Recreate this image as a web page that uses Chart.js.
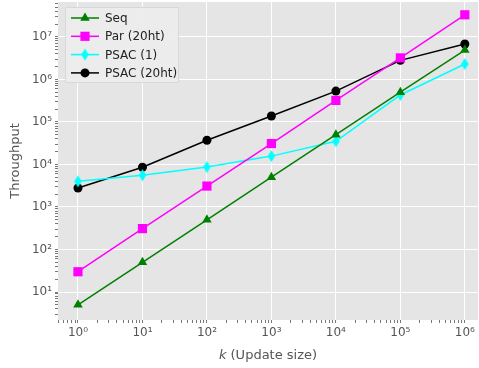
<!DOCTYPE html>
<html>
<head>
<meta charset="utf-8">
<script src="https://cdn.jsdelivr.net/npm/chart.js@4"></script>
<style>
  body { margin: 0; background: #fff; }
  #wrap { width: 479px; height: 368px; }
</style>
</head>
<body>
<div id="wrap"><canvas id="chartTput"></canvas></div>
<script>
// ===== DATA =====
const kValues = [1, 10, 100, 1000, 10000, 100000, 1000000];
const seq = [5, 50, 500, 5000, 50000, 500000, 4900000];
const par20 = [30, 310, 3100, 31000, 320000, 3200000, 33000000];
const psac1 = [4000, 5600, 8700, 15700, 35000, 430000, 2300000];
const psac20 = [2800, 8600, 37000, 138000, 530000, 2800000, 6800000];
const seriesNames = ["Seq", "Par (20ht)", "PSAC (1)", "PSAC (20ht)"];

const FONT = "'DejaVu Sans', sans-serif";
const SUP = { "0": "\u2070", "1": "\u00b9", "2": "\u00b2", "3": "\u00b3", "4": "\u2074",
  "5": "\u2075", "6": "\u2076", "7": "\u2077", "8": "\u2078", "9": "\u2079", "-": "\u207b" };

function powLabel(v) {
  const e = Math.round(Math.log10(v));
  if (Math.abs(Math.log10(v) - e) > 1e-9) return "";
  return "10" + String(e).split("").map(c => SUP[c]).join("");
}

function logTicks(scale) {
  const out = [];
  const lo = Math.floor(Math.log10(scale.min));
  const hi = Math.ceil(Math.log10(scale.max));
  for (let e = lo; e <= hi; e++) {
    for (let m = 1; m <= 9; m++) {
      const v = m * Math.pow(10, e);
      if (v >= scale.min * 0.9999 && v <= scale.max * 1.0001) out.push({ value: v, major: m === 1 });
    }
  }
  scale.ticks = out;
}

// thin diamond marker
function thinDiamond(color) {
  const c = document.createElement("canvas");
  c.width = 9; c.height = 13;
  const g = c.getContext("2d");
  g.fillStyle = color;
  g.beginPath();
  g.moveTo(4.5, 0.5); g.lineTo(8.3, 6.5); g.lineTo(4.5, 12.5); g.lineTo(0.7, 6.5);
  g.closePath(); g.fill();
  return c;
}

const styles = [
  { color: "#008000", pointStyle: "triangle", radius: 5.5 },
  { color: "#ff00ff", pointStyle: "rect", radius: 6.5 },
  { color: "#00ffff", pointStyle: thinDiamond("#00ffff"), radius: 5 },
  { color: "#000000", pointStyle: "circle", radius: 4.5 }
];
const values = [seq, par20, psac1, psac20];

const datasets = values.map((vals, i) => ({
  label: seriesNames[i],
  data: kValues.map((k, j) => ({ x: k, y: vals[j] })),
  borderColor: styles[i].color,
  backgroundColor: styles[i].color,
  borderWidth: 1.5,
  pointStyle: styles[i].pointStyle,
  pointRadius: styles[i].radius,
  pointHoverRadius: styles[i].radius,
  pointBorderWidth: 0,
  tension: 0
}));

// ===== PLUGINS =====
const bgPlugin = {
  id: "bg",
  beforeDraw(chart) {
    const a = chart.chartArea, ctx = chart.ctx;
    ctx.save();
    ctx.fillStyle = "#e5e5e5";
    ctx.fillRect(a.left, a.top, a.right - a.left, a.bottom - a.top);
    ctx.restore();
  }
};

const legendPlugin = {
  id: "boxLegend",
  afterDatasetsDraw(chart) {
    const ctx = chart.ctx, a = chart.chartArea;
    const x0 = a.left + 7, y0 = a.top + 5, w = 113, h = 75;
    ctx.save();
    ctx.fillStyle = "rgba(236,236,236,0.9)";
    ctx.strokeStyle = "#d8d8d8";
    ctx.lineWidth = 1;
    ctx.beginPath();
    ctx.rect(x0 + 0.5, y0 + 0.5, w, h);
    ctx.fill(); ctx.stroke();
    ctx.font = "12px " + FONT;
    ctx.textBaseline = "middle";
    chart.data.datasets.forEach((ds, i) => {
      const cy = y0 + 11 + i * 18.3;
      ctx.strokeStyle = ds.borderColor;
      ctx.lineWidth = 1.5;
      ctx.beginPath();
      ctx.moveTo(x0 + 6, cy); ctx.lineTo(x0 + 34, cy); ctx.stroke();
      ctx.fillStyle = ds.backgroundColor;
      Chart.helpers.drawPoint(ctx, {
        pointStyle: ds.pointStyle, radius: ds.pointRadius, rotation: 0, borderWidth: 0
      }, x0 + 20, cy);
      ctx.fillStyle = "#222";
      ctx.fillText(ds.label, x0 + 40, cy + 1);
    });
    ctx.restore();
  }
};

const xTitlePlugin = {
  id: "xTitle",
  afterDraw(chart) {
    const ctx = chart.ctx, a = chart.chartArea;
    ctx.save();
    ctx.fillStyle = "#555555";
    ctx.textBaseline = "middle";
    const p1 = "k", p2 = " (Update size)";
    ctx.font = "italic 13px " + FONT;
    const w1 = ctx.measureText(p1).width;
    ctx.font = "13px " + FONT;
    const w2 = ctx.measureText(p2).width;
    let x = (a.left + a.right) / 2 - (w1 + w2) / 2;
    const y = 356;
    ctx.font = "italic 13px " + FONT;
    ctx.fillText(p1, x, y);
    ctx.font = "13px " + FONT;
    ctx.fillText(p2, x + w1, y);
    ctx.restore();
  }
};

// ===== CHART =====
new Chart(document.getElementById("chartTput"), {
  type: "line",
  data: { datasets: datasets },
  plugins: [bgPlugin, legendPlugin, xTitlePlugin],
  options: {
    responsive: true,
    maintainAspectRatio: false,
    animation: false,
    layout: { autoPadding: false, padding: { top: 2, right: 1, left: 0, bottom: 0 } },
    plugins: { legend: { display: false }, tooltip: { enabled: false } },
    scales: {
      x: {
        type: "logarithmic",
        min: 0.49,
        max: 1.6e6,
        afterBuildTicks: logTicks,
        afterFit(scale) {
          scale.height = 48;
          scale.paddingLeft = 0; scale.paddingRight = 0;
        },
        border: { display: false },
        grid: {
          color: c => (c.tick && c.tick.major) ? "#ffffff" : "rgba(0,0,0,0)",
          lineWidth: 1,
          drawTicks: true,
          tickLength: 3,
          tickColor: "#777777"
        },
        ticks: {
          autoSkip: false,
          maxRotation: 0,
          padding: 3,
          color: "#555555",
          font: { family: FONT, size: 12 },
          callback: v => powLabel(v)
        }
      },
      y: {
        type: "logarithmic",
        min: 2.2,
        max: 6.6e7,
        afterBuildTicks: logTicks,
        afterFit(scale) {
          scale.width = 58;
          scale.paddingTop = 0; scale.paddingBottom = 0;
        },
        border: { display: false },
        grid: {
          color: c => (c.tick && c.tick.major) ? "#ffffff" : "rgba(0,0,0,0)",
          lineWidth: 1,
          drawTicks: true,
          tickLength: 3,
          tickColor: "#777777"
        },
        title: {
          display: true,
          text: "Throughput",
          color: "#555555",
          font: { family: FONT, size: 13 },
          padding: { top: 8, bottom: 2 }
        },
        ticks: {
          autoSkip: false,
          padding: 3,
          color: "#555555",
          font: { family: FONT, size: 12 },
          callback: v => powLabel(v)
        }
      }
    }
  }
});
</script>
</body>
</html>
